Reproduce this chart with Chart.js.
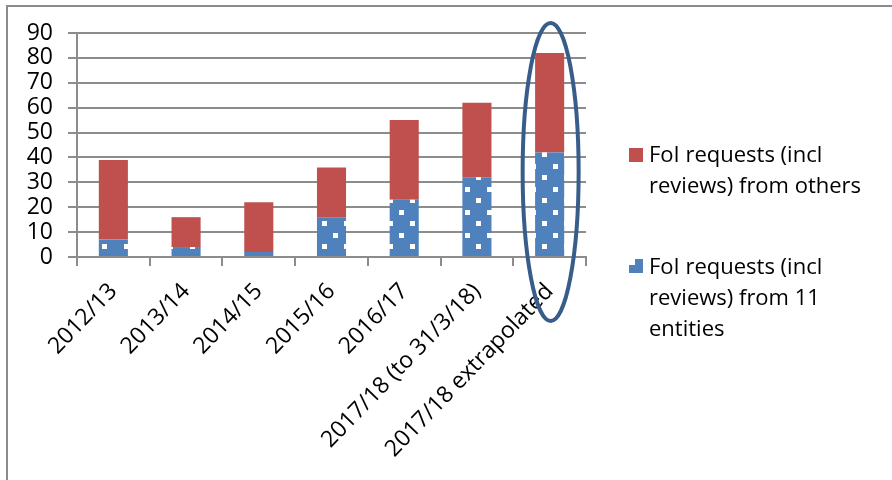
<!DOCTYPE html>
<html lang="en">
<head>
    <meta charset="UTF-8">
    <title>FoI requests</title>
    <script src="https://cdn.jsdelivr.net/npm/chart.js"></script>
    <style>
        body { margin: 0; background: #fff; }
        #wrap { position: relative; width: 892px; height: 480px; }
        #frame { position: absolute; left: 6px; top: 5px; right: -2px; bottom: -2px; border-left: 2px solid #8c8c8c; border-top: 2px solid #8c8c8c; pointer-events: none; }
        .leg { position: absolute; left: 629px; font-family: "Open Sans", sans-serif; font-size: 22px; line-height: 31px; color: #000; }
        .leg .box { position: absolute; left: 0; width: 14px; height: 14px; }
        .leg .txt { position: absolute; left: 20px; white-space: nowrap; }
    </style>
</head>
<body>
<div id="wrap">
    <canvas id="foiChart" width="892" height="480"></canvas>
    <div id="frame"></div>
    <div class="leg" style="top:148px">
        <div class="box" style="background:#C0504D"></div>
        <div class="txt" style="top:-10px">FoI requests (incl<br>reviews) from others</div>
    </div>
    <div class="leg" style="top:259px">
        <canvas class="box" id="blueBox" width="14" height="14"></canvas>
        <div class="txt" style="top:-9px">FoI requests (incl<br>reviews) from 11<br>entities</div>
    </div>
</div>

<script>
    const years = ['2012/13', '2013/14', '2014/15', '2015/16', '2016/17', '2017/18 (to 31/3/18)', '2017/18 extrapolated'];
    const fromEntities = [7, 4, 2, 16, 23, 32, 42];
    const fromOthers = [32, 12, 20, 20, 32, 30, 40];
    const yStep = 10;
    const yMax = 90;

    // blue fill with small white squares
    function dotPattern() {
        const c = document.createElement('canvas');
        c.width = 22; c.height = 23;
        const g = c.getContext('2d');
        g.fillStyle = '#4F81BD';
        g.fillRect(0, 0, 22, 23);
        g.fillStyle = '#fff';
        g.fillRect(3, 3, 5, 5);
        g.fillRect(14, 14, 5, 5);
        return g.createPattern(c, 'repeat');
    }

    const bb = document.getElementById('blueBox').getContext('2d');
    bb.fillStyle = '#4F81BD';
    bb.fillRect(0, 0, 14, 14);
    bb.fillStyle = '#fff';
    bb.fillRect(0, 0, 6, 6);

    // ellipse around the last column
    const ringPlugin = {
        id: 'ring',
        afterDraw(chart) {
            const x = chart.scales.x, y = chart.scales.y;
            const cx = x.getPixelForValue(6) + 1;
            const top = y.getPixelForValue(94);
            const bottom = y.getPixelForValue(0) + 64;
            const ctx = chart.ctx;
            ctx.save();
            ctx.beginPath();
            ctx.ellipse(cx, (top + bottom) / 2, 28, (bottom - top) / 2, 0, 0, Math.PI * 2);
            ctx.strokeStyle = '#385D8A';
            ctx.lineWidth = 4;
            ctx.stroke();
            ctx.restore();
        }
    };

    const font = { family: '"Open Sans", sans-serif', size: 23 };

    new Chart(document.getElementById('foiChart').getContext('2d'), {
        type: 'bar',
        data: {
            labels: years,
            datasets: [{
                label: 'FoI requests (incl reviews) from 11 entities',
                data: fromEntities,
                backgroundColor: dotPattern(),
                barPercentage: 0.4,
                categoryPercentage: 1
            }, {
                label: 'FoI requests (incl reviews) from others',
                data: fromOthers,
                backgroundColor: '#C0504D',
                barPercentage: 0.4,
                categoryPercentage: 1
            }]
        },
        options: {
            responsive: false,
            animation: false,
            layout: { padding: { left: 0, top: 33, right: 306, bottom: 0 } },
            plugins: { legend: { display: false }, tooltip: { enabled: false } },
            scales: {
                x: {
                    stacked: true,
                    afterFit: s => { s.height = 223; },
                    grid: { offset: true, drawOnChartArea: false, color: '#8c8c8c', lineWidth: 2, tickLength: 9 },
                    border: { color: '#8c8c8c', width: 2 },
                    ticks: { color: '#000', font: font, minRotation: 46, maxRotation: 46, autoSkip: false, padding: 12 }
                },
                y: {
                    stacked: true,
                    min: 0,
                    max: yMax,
                    afterFit: s => { s.width = 77; },
                    grid: { color: '#8c8c8c', lineWidth: 2, tickLength: 9 },
                    border: { color: '#8c8c8c', width: 2 },
                    ticks: { color: '#000', font: font, padding: 15, stepSize: yStep, autoSkip: false }
                }
            }
        },
        plugins: [ringPlugin]
    });
</script>
</body>
</html>
